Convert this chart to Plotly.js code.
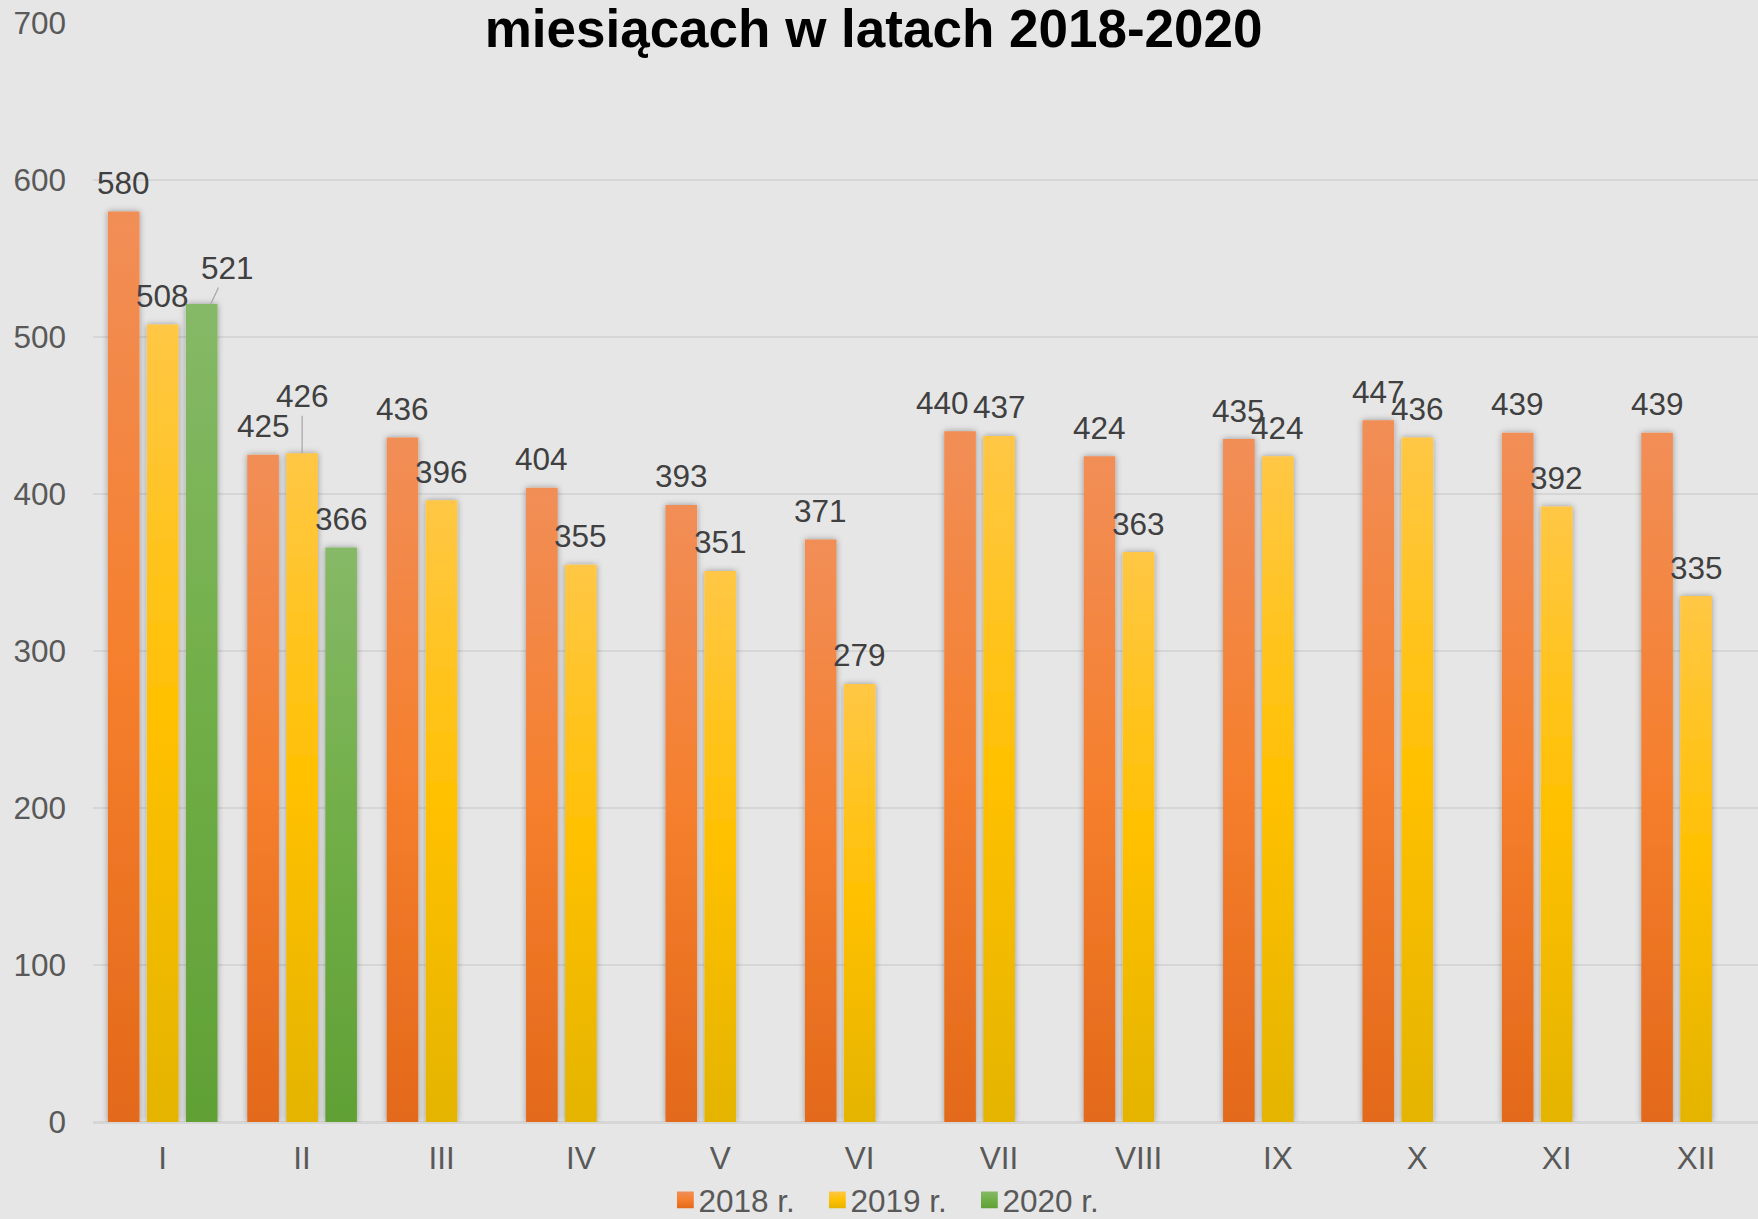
<!DOCTYPE html>
<html>
<head>
<meta charset="utf-8">
<script src="https://cdn.plot.ly/plotly-3.0.1.min.js"></script>
<style>
  html, body { margin: 0; padding: 0; background: #E6E6E6; }
  #chart { width: 1758px; height: 1219px; }
</style>
</head>
<body>
<div id="chart"></div>
<script>
// ---------- DATA ----------
const months = ['I','II','III','IV','V','VI','VII','VIII','IX','X','XI','XII'];
const seriesNames = ['2018 r.', '2019 r.', '2020 r.'];
const values2018 = [580, 425, 436, 404, 393, 371, 440, 424, 435, 447, 439, 439];
const values2019 = [508, 426, 396, 355, 351, 279, 437, 363, 424, 436, 392, 335];
const values2020 = [521, 366, null, null, null, null, null, null, null, null, null, null];
const yTicks = [0, 100, 200, 300, 400, 500, 600, 700];
const titleText = 'miesiącach w latach 2018-2020';

// ---------- STYLE ----------
const FONT = 'Liberation Sans, Arial, sans-serif';
const baseColors = ['#F47D2C', '#FFC000', '#70AD47'];
const gradStops = [
  ['#F18E57', '#F57F2D', '#E3691A'],
  ['#FFC745', '#FFC000', '#E4B400'],
  ['#86B967', '#70AE47', '#60A035']
];
const W = 1758, H = 1219;
const margin = {l: 93, r: 0, t: 23, b: 97};
const xRange = [-0.5, 11.444];
const bargap = 0.16, bargroupgap = 0.19;
const labelLift = 28.5;
// label nudges (style only): key "series|month"
const labelNudge = {
  '0|VII': {dx: -18},
};
const leaderLabels = {
  '2|I': {px: 9, ax: 17, ay: -36},
  '1|II': {px: 0, ax: 0, ay: -57}
};

const allSeries = [values2018, values2019, values2020];

const traces = allSeries.map((vals, i) => ({
  type: 'bar',
  name: seriesNames[i],
  x: months,
  y: vals,
  marker: {color: baseColors[i], line: {width: 0}},
  hoverinfo: 'skip'
}));

// slot width in pixels (from the axis scale)
const plotW = W - margin.l - margin.r;
const catPx = plotW / (xRange[1] - xRange[0]);
const slotPx = catPx * (1 - bargap) / allSeries.length;

const annotations = [];
allSeries.forEach((vals, si) => {
  vals.forEach((v, mi) => {
    if (v === null) return;
    const key = si + '|' + months[mi];
    const baseShift = (si - 1) * slotPx;
    const lead = leaderLabels[key];
    if (lead) {
      annotations.push({
        x: months[mi], y: v, xref: 'x', yref: 'y',
        xshift: baseShift + lead.px,
        text: String(v),
        showarrow: true, arrowhead: 0, arrowwidth: 1.2, arrowcolor: '#A6A6A6',
        ax: lead.ax, ay: lead.ay, standoff: 0,
        font: {family: FONT, size: 31.5, color: '#404040'}
      });
    } else {
      const n = labelNudge[key] || {dx: 0};
      annotations.push({
        x: months[mi], y: v, xref: 'x', yref: 'y',
        xshift: baseShift + n.dx, yshift: labelLift,
        xanchor: 'center', yanchor: 'middle',
        text: String(v), showarrow: false,
        font: {family: FONT, size: 31.5, color: '#404040'}
      });
    }
  });
});

const layout = {
  width: W, height: H,
  margin: margin,
  paper_bgcolor: '#E6E6E6',
  plot_bgcolor: '#E6E6E6',
  barmode: 'group',
  bargap: bargap,
  bargroupgap: bargroupgap,
  font: {family: FONT, color: '#595959'},
  title: {
    text: titleText,
    font: {family: FONT, size: 53, color: '#000000', weight: 'bold'},
    x: 0.4969, xref: 'container', xanchor: 'center',
    y: 1 - 28 / H, yref: 'container', yanchor: 'middle'
  },
  xaxis: {
    type: 'category',
    range: xRange,
    showgrid: false,
    showline: false,
    ticks: '',
    tickfont: {family: FONT, size: 31.5, color: '#595959'},
    ticklabelstandoff: 14,
    fixedrange: true
  },
  yaxis: {
    range: [0, 700],
    tickvals: yTicks,
    ticktext: yTicks.map(String),
    showgrid: true,
    gridcolor: '#D6D6D6',
    gridwidth: 2,
    zeroline: true,
    zerolinecolor: '#D6D6D6',
    zerolinewidth: 3,
    showline: false,
    ticks: '',
    tickfont: {family: FONT, size: 31.5, color: '#595959'},
    ticklabelstandoff: 26,
    fixedrange: true
  },
  showlegend: true,
  legend: {
    orientation: 'h',
    xref: 'container', yref: 'container',
    x: 0.5042, xanchor: 'center',
    y: 19 / H, yanchor: 'middle',
    font: {family: FONT, size: 31.5, color: '#595959'},
    itemwidth: 30,
    entrywidth: 107,
    traceorder: 'normal',
    bgcolor: 'rgba(0,0,0,0)'
  },
  annotations: annotations
};

Plotly.newPlot('chart', traces, layout, {staticPlot: true, displayModeBar: false}).then(() => {
  const svg = document.querySelector('#chart .main-svg');
  const NS = 'http://www.w3.org/2000/svg';
  let defs = svg.querySelector('defs');
  if (!defs) { defs = document.createElementNS(NS, 'defs'); svg.insertBefore(defs, svg.firstChild); }
  gradStops.forEach((stops, i) => {
    const g = document.createElementNS(NS, 'linearGradient');
    g.setAttribute('id', 'barGrad' + i);
    g.setAttribute('x1', '0'); g.setAttribute('y1', '0');
    g.setAttribute('x2', '0'); g.setAttribute('y2', '1');
    [[0, stops[0]], [0.5, stops[1]], [1, stops[2]]].forEach(([o, c]) => {
      const s = document.createElementNS(NS, 'stop');
      s.setAttribute('offset', o);
      s.setAttribute('stop-color', c);
      g.appendChild(s);
    });
    defs.appendChild(g);
  });
  const f = document.createElementNS(NS, 'filter');
  f.setAttribute('id', 'barShadow');
  f.setAttribute('x', '-60%'); f.setAttribute('y', '-5%');
  f.setAttribute('width', '220%'); f.setAttribute('height', '110%');
  const ds = document.createElementNS(NS, 'feDropShadow');
  ds.setAttribute('dx', '0'); ds.setAttribute('dy', '0');
  ds.setAttribute('stdDeviation', '3');
  ds.setAttribute('flood-color', '#000');
  ds.setAttribute('flood-opacity', '0.35');
  f.appendChild(ds);
  defs.appendChild(f);

  document.querySelectorAll('#chart .barlayer .trace').forEach((tr, i) => {
    tr.querySelectorAll('path').forEach(p => {
      p.style.fill = 'url(#barGrad' + i + ')';
      p.setAttribute('filter', 'url(#barShadow)');
    });
  });
  document.querySelectorAll('#chart .legend .traces').forEach((tr, i) => {
    tr.querySelectorAll('.legendpoints path').forEach(p => {
      p.style.fill = 'url(#barGrad' + i + ')';
      const t = p.getAttribute('transform') || '';
      p.setAttribute('transform', t + ' translate(7,0) scale(1.4)');
    });
  });
});
</script>
</body>
</html>
